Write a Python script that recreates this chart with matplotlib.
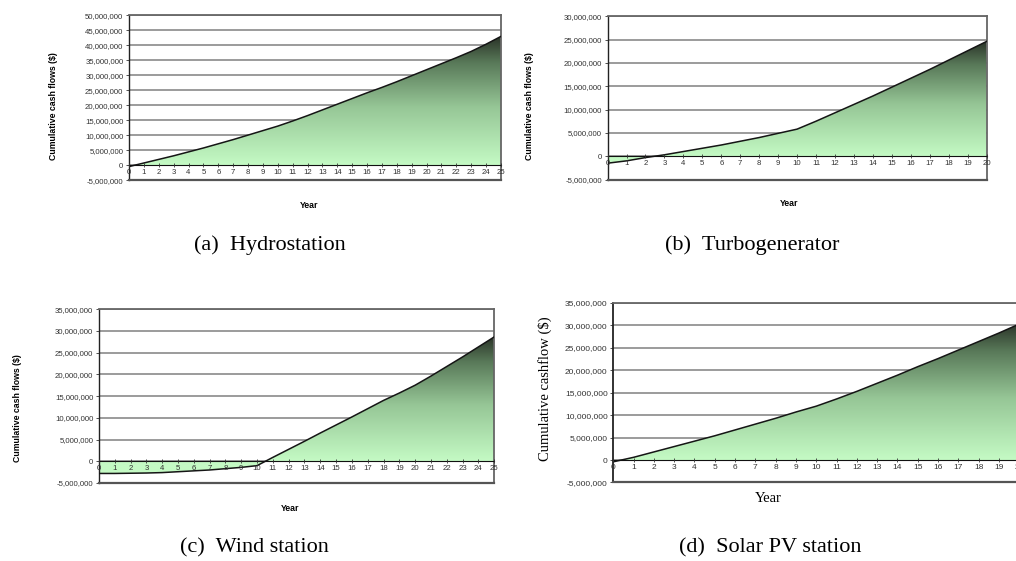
import matplotlib
matplotlib.use('Agg')
import matplotlib.pyplot as plt
import numpy as np
from matplotlib.colors import LinearSegmentedColormap
from matplotlib.ticker import FuncFormatter, MultipleLocator

# cumulative cash flows, $
hydro_years = list(range(0, 26))
hydro_cash = [-0.5e6, 0.7e6, 1.9e6, 3.1e6, 4.4e6, 5.7e6, 7.1e6, 8.5e6, 10.0e6, 11.5e6,
              13.0e6, 14.7e6, 16.5e6, 18.4e6, 20.3e6, 22.2e6, 24.1e6, 25.9e6, 27.8e6,
              29.8e6, 31.8e6, 33.8e6, 35.8e6, 37.9e6, 40.3e6, 42.9e6]

turbo_years = list(range(0, 21))
turbo_cash = [-1.5e6, -1.0e6, -0.3e6, 0.3e6, 1.0e6, 1.7e6, 2.4e6, 3.2e6, 4.0e6, 4.9e6,
              5.8e6, 7.5e6, 9.3e6, 11.1e6, 12.9e6, 14.8e6, 16.7e6, 18.6e6, 20.6e6,
              22.6e6, 24.6e6]

wind_years = list(range(0, 26))
wind_cash = [-2.8e6, -2.8e6, -2.75e6, -2.7e6, -2.6e6, -2.4e6, -2.2e6, -2.0e6, -1.7e6,
             -1.4e6, -1.0e6, 0.9e6, 2.75e6, 4.6e6, 6.5e6, 8.35e6, 10.2e6, 12.1e6, 14.0e6,
             15.7e6, 17.5e6, 19.6e6, 21.8e6, 24.0e6, 26.3e6, 28.6e6]

solar_years = list(range(0, 21))
solar_cash = [-0.4e6, 0.6e6, 1.8e6, 3.0e6, 4.2e6, 5.4e6, 6.7e6, 8.0e6, 9.3e6, 10.7e6,
              12.0e6, 13.6e6, 15.3e6, 17.1e6, 18.9e6, 20.8e6, 22.6e6, 24.5e6, 26.4e6,
              28.3e6, 30.3e6]

captions = ['(a)  Hydrostation', '(b)  Turbogenerator', '(c)  Wind station', '(d)  Solar PV station']

SANS = 'Liberation Sans'
SERIF = 'Liberation Serif'

cmap = LinearSegmentedColormap.from_list('cash', [(0.0, '#c4fac4'), (0.45, '#96c696'),
                                                  (0.8, '#587858'), (1.0, '#2a3328')])

money = FuncFormatter(lambda v, p: '{:,.0f}'.format(v))


def draw_panel(ax, years, cash, ytop, ylabel, ylab_xy, year_xy, serif=False, tick_fs=5.6):
	x = np.array(years, dtype=float)
	y = np.array(cash)
	ymin = -5e6
	ymax = y.max()

	# gradient fill under the curve, light at zero, dark at the top value
	poly = ax.fill_between(x, y, 0, facecolor='none', edgecolor='none')
	yy = np.linspace(ymin, ymax, 400)
	grad = np.clip(yy / ymax, 0, 1).reshape(-1, 1)
	im = ax.imshow(grad, extent=[x[0], x[-1], ymin, ymax], origin='lower',
				   cmap=cmap, vmin=0, vmax=1, aspect='auto', zorder=2, interpolation='bilinear')
	im.set_clip_path(poly.get_paths()[0], transform=ax.transData)

	ax.plot(x, y, color='#151515', lw=1.1, zorder=4)

	ax.set_xlim(x[0], x[-1])
	ax.set_ylim(ymin, ytop)
	ax.yaxis.set_major_locator(MultipleLocator(5e6))
	ax.yaxis.set_major_formatter(money)
	ax.xaxis.set_major_locator(MultipleLocator(1))

	ax.grid(axis='y', color='#8a8a8a', lw=1.2, zorder=1)
	ax.set_axisbelow(True)
	ax.xaxis.set_zorder(6)

	# x axis sits on the zero line, frame closed underneath
	ax.spines['bottom'].set_position(('data', 0))
	ax.spines['bottom'].set_color('#111111')
	ax.spines['bottom'].set_zorder(5)
	ax.axhline(ymin, color='#555555', lw=1.6, clip_on=False, zorder=5)
	for s in ['top', 'right']:
		ax.spines[s].set_color('#666666')
		ax.spines[s].set_linewidth(1.3)
	ax.spines['left'].set_color('#222222')
	ax.spines['left'].set_linewidth(1.3 if serif else 1.0)

	ax.tick_params(axis='x', direction='inout', length=2.5, width=0.6, pad=1.5,
				   labelsize=tick_fs, labelcolor='#333333', color='#333333')
	ax.tick_params(axis='y', direction='out', length=2, width=0.6, pad=2,
				   labelsize=tick_fs, labelcolor='#333333', color='#333333')
	for lab in ax.get_xticklabels() + ax.get_yticklabels():
		lab.set_family(SANS)

	if serif:
		ax.set_ylabel(ylabel, family=SERIF, fontsize=10.5)
		ax.text(year_xy[0], year_xy[1], 'Year', family=SERIF, fontsize=10.5,
				ha='center', va='center', transform=ax.transAxes)
	else:
		ax.set_ylabel(ylabel, family=SANS, fontsize=6.3, fontweight='bold')
		ax.text(year_xy[0], year_xy[1], 'Year', family=SANS, fontsize=6.3, fontweight='bold',
				ha='center', va='center', transform=ax.transAxes)
	ax.yaxis.set_label_coords(ylab_xy[0], ylab_xy[1])
	return ax


fig = plt.figure(figsize=(10.16, 5.61), dpi=100)

ax_a = fig.add_axes([0.127, 0.679, 0.366, 0.294])
draw_panel(ax_a, hydro_years, hydro_cash, 50e6, 'Cumulative cash flows ($)',
		   (-0.191, 0.448), (0.484, -0.152))

ax_b = fig.add_axes([0.598, 0.680, 0.373, 0.291])
draw_panel(ax_b, turbo_years, turbo_cash, 30e6, 'Cumulative cash flows ($)',
		   (-0.193, 0.449), (0.48, -0.145))

ax_c = fig.add_axes([0.0974, 0.139, 0.389, 0.310])
draw_panel(ax_c, wind_years, wind_cash, 35e6, 'Cumulative cash flows ($)',
		   (-0.195, 0.431), (0.483, -0.149))

ax_d = fig.add_axes([0.6036, 0.140, 0.3996, 0.320])
draw_panel(ax_d, solar_years, solar_cash, 35e6, 'Cumulative cashflow ($)',
		   (-0.151, 0.525), (0.381, -0.087), serif=True, tick_fs=6.0)

cap_pos = [(0.266, 0.563), (0.740, 0.563), (0.250, 0.023), (0.758, 0.023)]
for (cx, cy), txt in zip(cap_pos, captions):
	fig.text(cx, cy, txt, family=SERIF, fontsize=16, ha='center', va='center')

fig.savefig('out.png', dpi=100)
